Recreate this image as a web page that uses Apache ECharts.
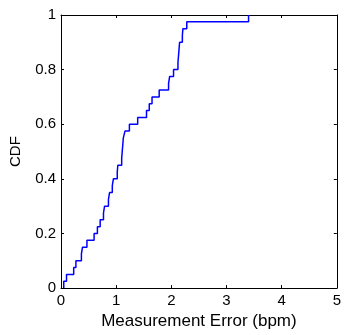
<!DOCTYPE html>
<html>
<head>
<meta charset="utf-8">
<script src="https://cdn.jsdelivr.net/npm/echarts@6/dist/echarts.min.js"></script>
<style>
html,body{margin:0;padding:0;background:#fff;}
#chart{width:344px;height:335px;}
</style>
</head>
<body>
<div id="chart"></div>
<script>
// Sorted measurement errors (bpm), one per sample, read from the CDF steps
var errors = [0.05, 0.10, 0.23, 0.27, 0.37, 0.39, 0.47, 0.60, 0.66, 0.71,
              0.77, 0.79, 0.86, 0.88, 0.93, 0.95, 1.02, 1.03, 1.10, 1.11,
              1.12, 1.13, 1.16, 1.24, 1.39, 1.55, 1.60, 1.65, 1.78, 1.95,
              1.97, 2.04, 2.12, 2.13, 2.14, 2.15, 2.20, 2.21, 2.28, 3.40];
var xTicks = [0, 1, 2, 3, 4, 5];
var yTicks = [0, 0.2, 0.4, 0.6, 0.8, 1];
var xName = 'Measurement Error (bpm)';
var yName = 'CDF';

var N = errors.length;
var cdfPoints = [[errors[0], 0]];
for (var i = 0; i < N; i++) cdfPoints.push([errors[i], (i + 1) / N]);

var font = 'Liberation Sans, Arial, Helvetica, sans-serif';
var chart = echarts.init(document.getElementById('chart'), null, {renderer: 'canvas'});
function axisCommon() {
  return {
    axisLine: {show: true, onZero: false, lineStyle: {color: '#000', width: 1}},
    axisTick: {show: true, inside: true, length: 3, lineStyle: {color: '#000', width: 1}},
    splitLine: {show: false}
  };
}
var option = {
  animation: false,
  backgroundColor: '#fff',
  grid: {left: 61, right: 4, top: 15, bottom: 41, containLabel: false},
  xAxis: [
    Object.assign({
      type: 'value', position: 'bottom', min: xTicks[0], max: xTicks[xTicks.length - 1], interval: 1,
      name: xName, nameLocation: 'middle', nameGap: 20,
      nameTextStyle: {fontFamily: font, fontSize: 17, color: '#000'},
      axisLabel: {fontFamily: font, fontSize: 15, color: '#000', margin: 5}
    }, axisCommon()),
    Object.assign({
      type: 'value', position: 'top', min: xTicks[0], max: xTicks[xTicks.length - 1], interval: 1,
      axisLabel: {show: false}
    }, axisCommon())
  ],
  yAxis: [
    Object.assign({
      type: 'value', position: 'left', min: yTicks[0], max: yTicks[yTicks.length - 1], interval: 0.2,
      name: yName, nameLocation: 'middle', nameGap: 38, nameRotate: 90,
      nameTextStyle: {fontFamily: font, fontSize: 15, color: '#000'},
      axisLabel: {fontFamily: font, fontSize: 15, color: '#000', margin: 5}
    }, axisCommon()),
    Object.assign({
      type: 'value', position: 'right', min: yTicks[0], max: yTicks[yTicks.length - 1], interval: 0.2,
      axisLabel: {show: false}
    }, axisCommon())
  ],
  series: [{
    type: 'line',
    data: cdfPoints,
    step: 'end',
    showSymbol: false,
    symbol: 'none',
    lineStyle: {color: '#0000ff', width: 1.5},
    xAxisIndex: 0, yAxisIndex: 0
  }]
};
chart.setOption(option);
</script>
</body>
</html>
